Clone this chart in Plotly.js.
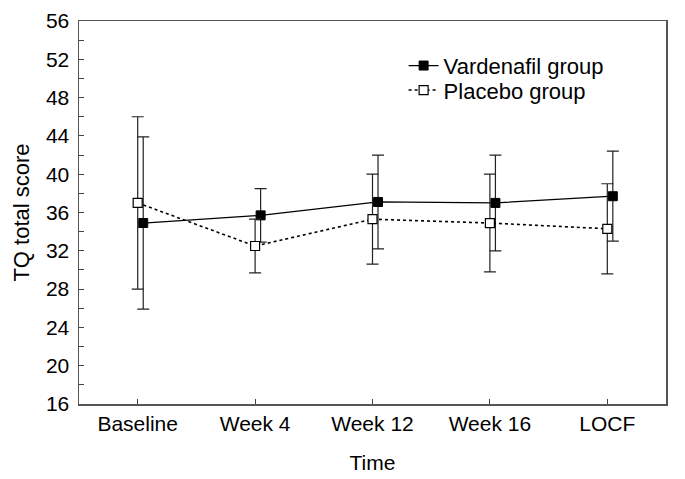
<!DOCTYPE html>
<html>
<head>
<meta charset="utf-8">
<script src="https://cdn.plot.ly/plotly-3.0.1.min.js"></script>
<style>html,body{margin:0;padding:0;background:#fff;}#chart{width:685px;height:479px;}</style>
</head>
<body>
<div id="chart"></div>
<script>
const categories = ['Baseline', 'Week 4', 'Week 12', 'Week 16', 'LOCF'];
const vardMean = [34.9, 35.7, 37.1, 37.0, 37.7];
const vardErr  = [9.0, 2.8, 4.9, 5.0, 4.7];
const placMean = [37.0, 32.5, 35.3, 34.9, 34.3];
const placErr  = [9.0, 2.8, 4.7, 5.1, 4.7];
const yTicks = [16, 20, 24, 28, 32, 36, 40, 44, 48, 52, 56];

const idx = categories.map((c, i) => i);
const shift = 0.047;

const font = {family: 'Liberation Sans, Arial, sans-serif', size: 21, color: '#000'};
const legFont = {family: 'Liberation Sans, Arial, sans-serif', size: 22, color: '#000'};

const traces = [
  {
    name: 'Vardenafil group',
    legend: 'legend',
    x: idx.map(i => i + shift),
    y: vardMean,
    type: 'scatter',
    mode: 'lines+markers',
    line: {color: '#000', width: 1.2, dash: 'solid'},
    marker: {symbol: 'square', size: 9, color: '#000', line: {color: '#000', width: 1}},
    error_y: {type: 'data', array: vardErr, visible: true, color: '#222', thickness: 1.2, width: 6}
  },
  {
    name: 'Placebo group',
    legend: 'legend2',
    x: idx,
    y: placMean,
    type: 'scatter',
    mode: 'lines+markers',
    line: {color: '#000', width: 1.6, dash: 'dot'},
    marker: {symbol: 'square', size: 9, color: '#fff', line: {color: '#000', width: 1.2}},
    error_y: {type: 'data', array: placErr, visible: true, color: '#222', thickness: 1.2, width: 6}
  }
];

const legendBase = {
  xanchor: 'left', yanchor: 'top',
  bgcolor: 'rgba(0,0,0,0)', borderwidth: 0,
  font: legFont, itemwidth: 30
};

const layout = {
  width: 685, height: 479,
  margin: {l: 79, r: 19, t: 21, b: 75},
  paper_bgcolor: '#fff', plot_bgcolor: '#fff',
  font: font,
  showlegend: true,
  legend: Object.assign({}, legendBase, {x: 0.553, y: 0.938}),
  legend2: Object.assign({}, legendBase, {x: 0.553, y: 0.874}),
  xaxis: {
    range: [-0.5, 4.5],
    tickvals: idx, ticktext: categories,
    ticks: 'inside', ticklen: 5, tickcolor: '#444', tickwidth: 1,
    showline: true, linecolor: '#555', linewidth: 1.5, mirror: true,
    showgrid: false, zeroline: false,
    tickfont: font,
    title: {text: 'Time', font: font, standoff: 21}
  },
  yaxis: {
    range: [16, 56],
    tickvals: yTicks,
    ticks: 'inside', ticklen: 5, tickcolor: '#444', tickwidth: 1,
    minor: {dtick: 2, ticks: 'inside', ticklen: 5, tickcolor: '#444', tickwidth: 1, showgrid: false},
    showline: true, linecolor: '#555', linewidth: 1.5, mirror: true,
    showgrid: false, zeroline: false,
    ticklabelstandoff: 4,
    tickfont: font,
    title: {text: 'TQ total score', font: {family: font.family, size: 22, color: '#000'}, standoff: 10}
  }
};

Plotly.newPlot('chart', traces, layout, {displayModeBar: false, staticPlot: true});
</script>
</body>
</html>
